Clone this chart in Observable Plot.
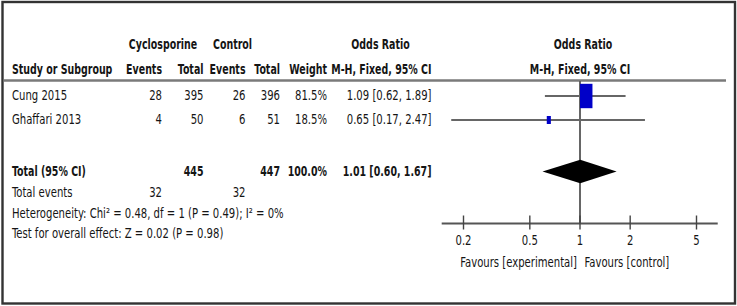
<!DOCTYPE html>
<html><head><meta charset="utf-8">
<script src="https://cdn.jsdelivr.net/npm/d3@7"></script>
<script src="https://cdn.jsdelivr.net/npm/@observablehq/plot@0.6"></script>
<style>
html,body{margin:0;padding:0;background:#fff;}
#chart{position:relative;width:737px;height:306px;}
#chart svg{position:absolute;left:0;top:0;overflow:visible;}
</style></head><body><div id="chart"></div>
<script>
// ---- data ----
const studies = ["Cung 2015", "Ghaffari 2013"];
const expEvents = [28, 4];
const expTotal = [395, 50];
const ctlEvents = [26, 6];
const ctlTotal = [396, 51];
const weights = [81.5, 18.5];
const oddsRatio = [1.09, 0.65];
const ciLow = [0.62, 0.17];
const ciHigh = [1.89, 2.47];
const totalLabel = "Total (95% CI)";
const totalExp = 445, totalCtl = 447, totalWeight = 100.0;
const totalOR = 1.01, totalLow = 0.60, totalHigh = 1.67;
const totalEventsLabel = "Total events";
const totalEventsExp = 32, totalEventsCtl = 32;
const heterogeneity = "Heterogeneity: Chi² = 0.48, df = 1 (P = 0.49); I² = 0%";
const overallEffect = "Test for overall effect: Z = 0.02 (P = 0.98)";
const axisTicks = [0.2, 0.5, 1, 2, 5];
const favoursLeft = "Favours [experimental]";
const favoursRight = "Favours [control]";
const groupHeaders = ["Cyclosporine", "Control"];
const studyHeader = "Study or Subgroup";
const columnHeaders = ["Events", "Total", "Events", "Total", "Weight", "M-H, Fixed, 95% CI"];
const effectHeader = "Odds Ratio";
const effectSubHeader = "M-H, Fixed, 95% CI";

// ---- layout / style ----
const W = 737, H = 306;
const FONT = "'DejaVu Sans Condensed','DejaVu Sans',sans-serif";
const FS = 14;
const SQUEEZE = {normal: 0.8, bold: 0.75};
const INK = "#151515";
const colX = {study: 11.5, ev1: 161.5, tot1: 203, ev2: 245, tot2: 279.5, weight: 326.5, or: 431};
const groupX = [162.5, 232];
const orHeadX = 380;
const rowY = {h1: 44, h2: 69.5, studies: [95.5, 119.5], total: 171.5, events: 192.5, het: 213, test: 233.5,
              headerLine: 80, axis: 223, tickTop: 215.5, tickBottom: 229.5, tickLabel: 240, favours: 262};
const axisExtent = [0.149, 6.75];
const diamondHalf = 11.7;
const fmt2 = d3.format(".2f");
const ciText = (o, l, h) => `${fmt2(o)} [${fmt2(l)}, ${fmt2(h)}]`;

const studyRows = studies.map((s, i) => ({
  study: s, ev1: expEvents[i], tot1: expTotal[i], ev2: ctlEvents[i], tot2: ctlTotal[i],
  weight: weights[i], or: oddsRatio[i], lo: ciLow[i], hi: ciHigh[i], y: rowY.studies[i]
}));

const headerCols = [colX.ev1, colX.tot1, colX.ev2, colX.tot2, colX.weight, colX.or];

const txt = (data, opts) => Plot.text(data, {fill: INK, fontSize: FS, ...opts});

// ---- table plot ----
const tableCols = ["ev1", "tot1", "ev2", "tot2"];
const table = Plot.plot({
  width: W, height: H, margin: 0,
  x: {domain: [0, W], range: [0, W], axis: null},
  y: {domain: [0, H], range: [0, H], axis: null},
  style: {fontFamily: FONT, background: "transparent"},
  marks: [
    Plot.frame({stroke: "#333", strokeWidth: 2.4, insetLeft: 2, insetTop: 1.5, insetRight: 2.5, insetBottom: 3}),
    Plot.ruleY([rowY.headerLine], {x1: () => 4, x2: () => 726, stroke: "#7a7a7a", strokeWidth: 2.6}),
    txt(groupHeaders, {x: (d, i) => groupX[i], y: () => rowY.h1, text: d => d, fontWeight: "bold"}),
    txt([effectHeader], {x: () => orHeadX, y: () => rowY.h1, text: d => d, fontWeight: "bold"}),
    txt([studyHeader], {x: () => colX.study, y: () => rowY.h2, text: d => d, textAnchor: "start", fontWeight: "bold"}),
    txt(columnHeaders, {x: (d, i) => headerCols[i], y: () => rowY.h2, text: d => d, textAnchor: "end", fontWeight: "bold"}),
    txt(studyRows, {x: () => colX.study, y: "y", text: "study", textAnchor: "start"}),
    ...tableCols.map(k => txt(studyRows, {x: () => colX[k], y: "y", text: k, textAnchor: "end"})),
    txt(studyRows, {x: () => colX.weight, y: "y", text: d => d.weight.toFixed(1) + "%", textAnchor: "end"}),
    txt(studyRows, {x: () => colX.or, y: "y", text: d => ciText(d.or, d.lo, d.hi), textAnchor: "end"}),
    // total row
    txt([totalLabel], {x: () => colX.study, y: () => rowY.total, text: d => d, textAnchor: "start", fontWeight: "bold"}),
    txt([totalExp], {x: () => colX.tot1, y: () => rowY.total, text: d => d, textAnchor: "end", fontWeight: "bold"}),
    txt([totalCtl], {x: () => colX.tot2, y: () => rowY.total, text: d => d, textAnchor: "end", fontWeight: "bold"}),
    txt([totalWeight], {x: () => colX.weight, y: () => rowY.total, text: d => d.toFixed(1) + "%", textAnchor: "end", fontWeight: "bold"}),
    txt([0], {x: () => colX.or, y: () => rowY.total, text: () => ciText(totalOR, totalLow, totalHigh), textAnchor: "end", fontWeight: "bold"}),
    // total events + stats
    txt([totalEventsLabel], {x: () => colX.study, y: () => rowY.events, text: d => d, textAnchor: "start"}),
    txt([totalEventsExp], {x: () => colX.ev1, y: () => rowY.events, text: d => d, textAnchor: "end"}),
    txt([totalEventsCtl], {x: () => colX.ev2, y: () => rowY.events, text: d => d, textAnchor: "end"}),
    txt([heterogeneity], {x: () => colX.study, y: () => rowY.het, text: d => d, textAnchor: "start"}),
    txt([overallEffect], {x: () => colX.study, y: () => rowY.test, text: d => d, textAnchor: "start"})
  ]
});

// ---- forest plot ----
const boxSymbol = {
  draw(ctx, size) {
    const h = Math.sqrt(size / 0.51), w = 0.51 * h;
    ctx.rect(-w / 2, -h / 2, w, h);
  }
};
const diamond = [
  {y: rowY.total - diamondHalf, x1: totalOR, x2: totalOR},
  {y: rowY.total, x1: totalLow, x2: totalHigh},
  {y: rowY.total + diamondHalf, x1: totalOR, x2: totalOR}
];
const forest = Plot.plot({
  width: W, height: H, margin: 0,
  x: {type: "log", domain: [0.2, 5], range: [463, 696], axis: null},
  y: {domain: [0, H], range: [0, H], axis: null},
  r: {type: "pow", exponent: 0.75, domain: [0, 81.5], range: [0, 9.83]},
  style: {fontFamily: FONT, background: "transparent"},
  marks: [
    txt([effectHeader], {x: () => 1, dx: 3, y: () => rowY.h1, text: d => d, fontWeight: "bold"}),
    txt([effectSubHeader], {x: () => 1, y: () => rowY.h2, text: d => d, fontWeight: "bold"}),
    Plot.ruleX([1], {y1: () => rowY.headerLine + 1.3, y2: () => rowY.axis, stroke: "#333", strokeWidth: 1.5}),
    Plot.ruleY([rowY.axis], {x1: () => axisExtent[0], x2: () => axisExtent[1], stroke: "#555", strokeWidth: 2}),
    Plot.ruleX(axisTicks, {y1: () => rowY.tickTop, y2: () => rowY.tickBottom, stroke: "#444", strokeWidth: 1.4}),
    txt(axisTicks, {x: d => d, y: () => rowY.tickLabel, text: d => String(d)}),
    txt([favoursLeft], {x: () => 1, dx: -3, y: () => rowY.favours, text: d => d, textAnchor: "end"}),
    txt([favoursRight], {x: () => 1, dx: 4.5, y: () => rowY.favours, text: d => d, textAnchor: "start"}),
    Plot.ruleY(studyRows, {y: "y", x1: "lo", x2: "hi", stroke: "#666", strokeWidth: 2}),
    Plot.dot(studyRows, {x: "or", y: "y", r: "weight", symbol: boxSymbol, fill: "#0000c8", stroke: "none"}),
    Plot.areaX(diamond, {y: "y", x1: "x1", x2: "x2", fill: "#000"})
  ]
});

const el = document.getElementById("chart");
el.append(table, forest);

// narrow the glyphs to match the condensed typeface of the original
for (const t of el.querySelectorAll("text")) {
  const bold = t.closest('[font-weight="bold"]') !== null;
  const len = t.getComputedTextLength();
  if (len > 0) {
    t.setAttribute("textLength", (len * (bold ? SQUEEZE.bold : SQUEEZE.normal)).toFixed(2));
    t.setAttribute("lengthAdjust", "spacingAndGlyphs");
  }
}
</script></body></html>
